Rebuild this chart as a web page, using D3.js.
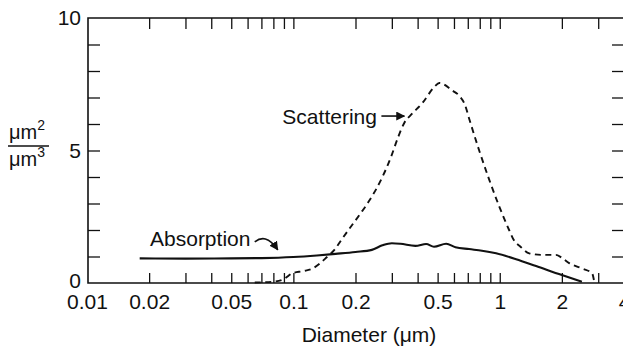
<!DOCTYPE html>
<html><head><meta charset="utf-8">
<script src="https://cdn.jsdelivr.net/npm/d3@7"></script>
<style>
body{margin:0;background:#fff}
svg{display:block}
text{font-family:"Liberation Sans",Arial,Helvetica,sans-serif;fill:#111}
</style>
</head><body><svg id="c" width="623" height="349"></svg>
<script>
// ---- data ----
const absDiam = [0.018,0.03,0.05,0.07,0.1,0.13,0.16,0.2,0.24,0.27,0.3,0.33,0.39,0.44,0.48,0.55,0.61,0.71,0.82,0.96,1.2,1.5,2.0,2.5];
const absVal  = [0.93,0.92,0.93,0.94,0.98,1.04,1.10,1.17,1.25,1.42,1.50,1.48,1.40,1.47,1.37,1.48,1.35,1.28,1.22,1.12,0.90,0.64,0.30,0.05];
const scatDiam = [0.065,0.08,0.09,0.099,0.112,0.124,0.135,0.145,0.158,0.17,0.181,0.209,0.233,0.27,0.297,0.32,0.345,0.372,0.423,0.482,0.51,0.59,0.636,0.68,0.711,0.795,0.889,0.993,1.11,1.17,1.26,1.39,1.6,1.87,2.01,2.17,2.5,2.8,2.86];
const scatVal  = [0.02,0.05,0.15,0.37,0.45,0.55,0.75,0.97,1.25,1.6,1.9,2.57,3.1,4.0,4.75,5.45,6.05,6.35,6.8,7.4,7.55,7.26,7.07,6.7,6.2,5.0,3.9,2.9,2.0,1.62,1.37,1.12,1.06,1.06,0.94,0.75,0.55,0.37,0.11];
const xTickValues = [0.01,0.02,0.05,0.1,0.2,0.5,1,2,4];
const xTickLabels = ["0.01","0.02","0.05","0.1","0.2","0.5","1","2","4"];
const xMinorTicks = [0.02,0.03,0.04,0.05,0.06,0.07,0.08,0.09,0.1,0.2,0.3,0.4,0.5,0.6,0.7,0.8,0.9,1,2,3];
const yTickValues = [0,5,10];
const yTickLabels = ["0","5","10"];
const yMinorTicks = [1,2,3,4,5,6,7,8,9];
const xTitle = "Diameter (\u03bcm)";
const labelScattering = "Scattering";
const labelAbsorption = "Absorption";

// ---- layout ----
const svg = d3.select("#c");
const L = 88, R = 624, T = 18, B = 283;
const x = d3.scaleLog().domain([0.01, 4]).range([87, 624]);
const y = d3.scaleLinear().domain([0, 10]).range([B, T]);
const ink = "#111";
const FS = "21px";

// frame
svg.append("path")
  .attr("d", `M${L},${T}H${R}V${B}H${L}Z`)
  .attr("fill","none").attr("stroke",ink).attr("stroke-width",1.6);

function styleAxis(g){
  g.select(".domain").remove();
  g.selectAll(".tick line").attr("stroke",ink).attr("stroke-width",1.3);
  g.selectAll(".tick text").attr("font-size",FS).attr("fill",ink)
    .attr("font-family","Liberation Sans, Arial, sans-serif");
}

// bottom ticks (inward) and labels
svg.append("g").attr("transform",`translate(0,${B})`)
  .call(d3.axisBottom(x).tickValues(xMinorTicks).tickSize(-10).tickFormat(""))
  .call(styleAxis);
svg.append("g").attr("transform",`translate(0,${B})`)
  .call(d3.axisBottom(x).tickValues(xTickValues).tickSize(0).tickPadding(11)
        .tickFormat((d,i)=>xTickLabels[i]))
  .call(styleAxis);
// top ticks (inward)
svg.append("g").attr("transform",`translate(0,${T})`)
  .call(d3.axisTop(x).tickValues(xMinorTicks).tickSize(-11).tickFormat(""))
  .call(styleAxis);
// left ticks
svg.append("g").attr("transform",`translate(${L},0)`)
  .call(d3.axisLeft(y).tickValues(yMinorTicks).tickSize(-12).tickFormat(""))
  .call(styleAxis);
const yl = svg.append("g").attr("transform",`translate(${L},0)`)
  .call(d3.axisLeft(y).tickValues(yTickValues).tickSize(0).tickPadding(7)
        .tickFormat((d,i)=>yTickLabels[i]))
  .call(styleAxis);
yl.selectAll(".tick text").attr("dy", d => d === 0 ? "0.2em" : "0.32em");
// right ticks
svg.append("g").attr("transform",`translate(${R},0)`)
  .call(d3.axisRight(y).tickValues(yMinorTicks).tickSize(-12).tickFormat(""))
  .call(styleAxis);

// x title
svg.append("text").attr("x", 369).attr("y", 342).attr("text-anchor","middle")
  .attr("font-size",FS).text(xTitle);

// y title (fraction)
const yt = svg.append("g");
const num = yt.append("text").attr("x", 9).attr("y", 139).attr("font-size","20px");
num.append("tspan").text("\u03bcm");
num.append("tspan").attr("font-size","14px").attr("dy",-9).text("2");
yt.append("line").attr("x1",8).attr("x2",49).attr("y1",146).attr("y2",146)
  .attr("stroke",ink).attr("stroke-width",1.4);
const den = yt.append("text").attr("x", 9).attr("y", 166).attr("font-size","20px");
den.append("tspan").text("\u03bcm");
den.append("tspan").attr("font-size","14px").attr("dy",-9).text("3");

// data lines
const line = d3.line().x(d=>x(d[0])).y(d=>y(d[1])).curve(d3.curveMonotoneX);
svg.append("path").datum(absDiam.map((d,i)=>[d,absVal[i]]))
  .attr("d", line).attr("fill","none").attr("stroke",ink).attr("stroke-width",2.1);
svg.append("path").datum(scatDiam.map((d,i)=>[d,scatVal[i]]))
  .attr("d", line).attr("fill","none").attr("stroke",ink).attr("stroke-width",1.9)
  .attr("stroke-dasharray","6,4.5");

// annotations
svg.append("defs").append("marker").attr("id","ah")
  .attr("viewBox","0 0 10 10").attr("refX",9).attr("refY",5)
  .attr("markerWidth",9).attr("markerHeight",9).attr("markerUnits","userSpaceOnUse")
  .attr("orient","auto")
  .append("path").attr("d","M0,0L10,5L0,10Z").attr("fill",ink);

svg.append("text").attr("x", x(0.254)).attr("y", y(6.0)).attr("text-anchor","end")
  .attr("font-size",FS).text(labelScattering);
svg.append("line").attr("x1", x(0.267)).attr("x2", x(0.345))
  .attr("y1", y(6.3)).attr("y2", y(6.3))
  .attr("stroke",ink).attr("stroke-width",1.6).attr("marker-end","url(#ah)");

svg.append("text").attr("x", x(0.0202)).attr("y", y(1.40))
  .attr("font-size",FS).text(labelAbsorption);
svg.append("path")
  .attr("d", `M${x(0.065)},${y(1.55)} C${x(0.07)},${y(1.75)} ${x(0.076)},${y(1.75)} ${x(0.084)},${y(1.25)}`)
  .attr("fill","none").attr("stroke",ink).attr("stroke-width",1.6).attr("marker-end","url(#ah)");
</script>
</body></html>
